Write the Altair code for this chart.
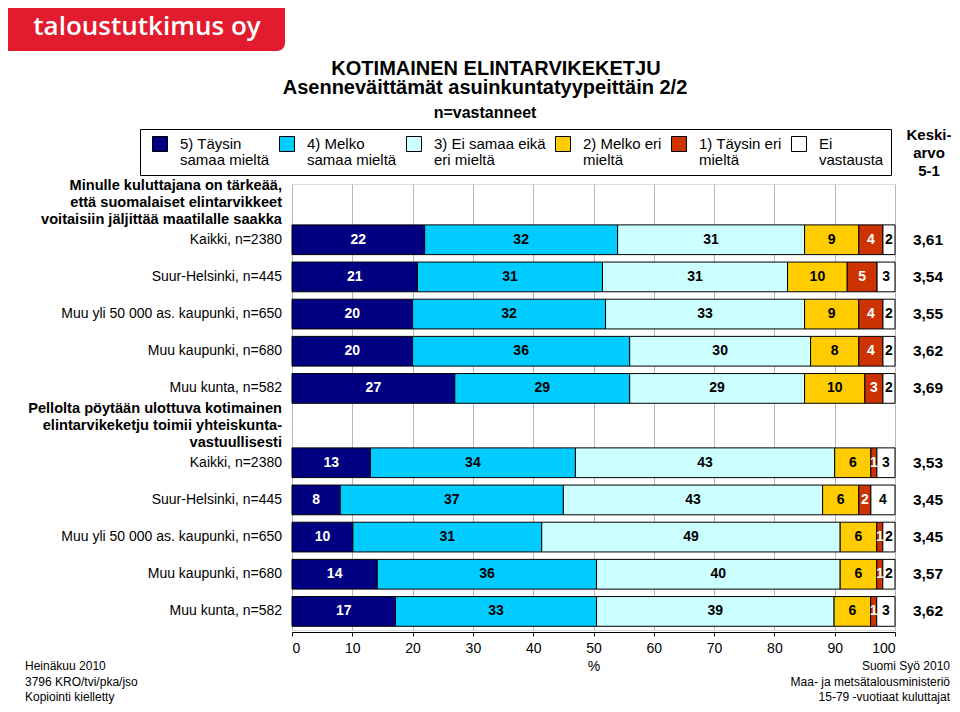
import altair as alt
import pandas as pd

# ---------------- data ----------------
row_labels = ["Kaikki, n=2380", "Suur-Helsinki, n=445", "Muu yli 50 000 as. kaupunki, n=650",
              "Muu kaupunki, n=680", "Muu kunta, n=582"]
questions = ["Minulle kuluttajana on tärkeää,\nettä suomalaiset elintarvikkeet\nvoitaisiin jäljittää maatilalle saakka",
             "Pellolta pöytään ulottuva kotimainen\nelintarvikeketju toimii yhteiskunta-\nvastuullisesti"]
categories = ["5) Täysin\nsamaa mieltä", "4) Melko\nsamaa mieltä", "3) Ei samaa eikä\neri mieltä",
              "2) Melko eri\nmieltä", "1) Täysin eri\nmieltä", "Ei\nvastausta"]
colors = ["#000080", "#00ccff", "#ccffff", "#ffcc00", "#cc3300", "#ffffff"]
q1_values = [[22, 32, 31, 9, 4, 2], [21, 31, 31, 10, 5, 3], [20, 32, 33, 9, 4, 2],
             [20, 36, 30, 8, 4, 2], [27, 29, 29, 10, 3, 2]]
q2_values = [[13, 34, 43, 6, 1, 3], [8, 37, 43, 6, 2, 4], [10, 31, 49, 6, 1, 2],
             [14, 36, 40, 6, 1, 2], [17, 33, 39, 6, 1, 3]]
q1_means = ["3,61", "3,54", "3,55", "3,62", "3,69"]
q2_means = ["3,53", "3,45", "3,45", "3,57", "3,62"]
x_ticks = [0, 10, 20, 30, 40, 50, 60, 70, 80, 90, 100]
title_lines = ["KOTIMAINEN ELINTARVIKEKETJU", "Asenneväittämät asuinkuntatyypeittäin  2/2"]
subtitle = "n=vastanneet"
mean_header = "Keski-\narvo\n5-1"
footer_left = "Heinäkuu 2010\n3796 KRO/tvi/pka/jso\nKopiointi kielletty"
footer_right = "Suomi Syö 2010\nMaa- ja metsätalousministeriö\n15-79 -vuotiaat kuluttajat"
logo_text = "taloustutkimus oy"

# ---------------- tables ----------------
order = ["q1_h"] + [f"q1_{i}" for i in range(5)] + ["q2_h"] + [f"q2_{i}" for i in range(5)]
records = []
for q, vals in (("q1", q1_values), ("q2", q2_values)):
    for i, row in enumerate(vals):
        for ci, v in enumerate(row):
            records.append({"key": f"{q}_{i}", "cat": categories[ci], "ci": ci, "value": v})
df = pd.DataFrame(records)
row_df = pd.DataFrame({
    "key": [f"q1_{i}" for i in range(5)] + [f"q2_{i}" for i in range(5)],
    "label": row_labels * 2,
    "mean": q1_means + q2_means,
})
q_df = pd.DataFrame({"key": ["q1_h", "q2_h"], "label": questions})

W, H = 603, 446
FONT = "Liberation Sans"
NARROW = "Liberation Sans Narrow, Arial Narrow, Liberation Sans"

yenc = alt.Y("key:N", scale=alt.Scale(domain=order, paddingInner=0.2, paddingOuter=0.1), axis=None)

stacked = alt.Chart(df).transform_stack(
    stack="value", groupby=["key"], as_=["x0", "x1"], offset="normalize",
    sort=[alt.SortField("ci", order="ascending")])

bars = stacked.mark_bar(stroke="black", strokeWidth=1).encode(
    x=alt.X("x0:Q",
            scale=alt.Scale(domain=[0, 1], nice=False, zero=True),
            axis=alt.Axis(values=[t / 100 for t in x_ticks], labelExpr="round(datum.value*100)",
                          title="%", titleFontWeight="normal", titleFontSize=14, titleFont=FONT,
                          titlePadding=4, labelFont=FONT, labelFontSize=14, labelColor="black",
                          labelPadding=5, tickSize=4, tickColor="black", domainColor="black",
                          offset=2, grid=True, gridColor="#b8b8b8", gridWidth=1)),
    x2="x1:Q",
    y=yenc,
    fill=alt.Fill("cat:N", scale=alt.Scale(domain=categories, range=colors),
                  legend=alt.Legend(title=None, orient="none", legendX=-152, legendY=-55,
                                    direction="horizontal", symbolType="square", symbolSize=225,
                                    symbolStrokeColor="black", symbolStrokeWidth=1, symbolOpacity=1,
                                    symbolOffset=5,
                                    labelFont=FONT, labelFontSize=15, labelColor="black",
                                    labelOffset=12, columnPadding=4, padding=7,
                                    strokeColor="black", fillColor="white", labelLimit=240,
                                    labelExpr="split(datum.label, '\\n')")),
)

bar_text = stacked.transform_calculate(xm="(datum.x0 + datum.x1) / 2").mark_text(
    font=NARROW, fontSize=14, fontWeight="bold", baseline="middle").encode(
    x="xm:Q", y=yenc, text="value:Q",
    color=alt.condition(alt.FieldOneOfPredicate(field="cat", oneOf=[categories[0], categories[4]]),
                        alt.value("white"), alt.value("black")),
)

row_text = alt.Chart(row_df).mark_text(align="right", baseline="middle", font=FONT, fontSize=14,
                                       color="black").encode(
    x=alt.value(-10), y=yenc, text="label:N")

mean_text = alt.Chart(row_df).mark_text(align="center", baseline="middle", font=FONT, fontSize=15.5,
                                        fontWeight="bold", color="black").encode(
    x=alt.value(W + 33), y=yenc, text="mean:N")

q_text = alt.Chart(q_df).mark_text(align="right", baseline="middle", font=FONT, fontSize=14.6,
                                   fontWeight="bold", lineBreak="\n", lineHeight=17, dy=-17,
                                   color="black").encode(
    x=alt.value(-10), y=yenc, text="label:N")

header = alt.Chart(pd.DataFrame({"t": [mean_header]})).mark_text(
    align="center", baseline="middle", font=FONT, fontSize=15, fontWeight="bold",
    lineBreak="\n", lineHeight=18, color="black").encode(
    x=alt.value(W + 34), y=alt.value(-49), text="t:N")

t1 = alt.Chart(pd.DataFrame({"t": [title_lines[0]]})).mark_text(
    align="center", baseline="middle", font=FONT, fontSize=20, fontWeight="bold", color="black").encode(
    x=alt.value(204), y=alt.value(-115), text="t:N")
t2 = alt.Chart(pd.DataFrame({"t": [title_lines[1]]})).mark_text(
    align="center", baseline="middle", font=FONT, fontSize=20, fontWeight="bold", color="black").encode(
    x=alt.value(193), y=alt.value(-96), text="t:N")
t3 = alt.Chart(pd.DataFrame({"t": [subtitle]})).mark_text(
    align="center", baseline="middle", font=FONT, fontSize=16, fontWeight="bold", color="black").encode(
    x=alt.value(193), y=alt.value(-71), text="t:N")

logo_box = alt.Chart(pd.DataFrame({"t": [logo_text]})).mark_rect(
    color="#e31b2e", cornerRadiusBottomRight=8).encode(
    x=alt.value(-284), x2=alt.value(-7), y=alt.value(-176), y2=alt.value(-133))
logo = alt.Chart(pd.DataFrame({"t": [logo_text]})).mark_text(
    align="center", baseline="middle", font="Open Sans", fontSize=26, fontWeight=600,
    color="white").encode(x=alt.value(-145), y=alt.value(-157), text="t:N")

foot_l = alt.Chart(pd.DataFrame({"t": [footer_left]})).mark_text(
    align="left", baseline="middle", font=FONT, fontSize=12, lineBreak="\n", lineHeight=15.5,
    color="black").encode(x=alt.value(-267), y=alt.value(482), text="t:N")
foot_r = alt.Chart(pd.DataFrame({"t": [footer_right]})).mark_text(
    align="right", baseline="middle", font=FONT, fontSize=12, lineBreak="\n", lineHeight=15.5,
    color="black").encode(x=alt.value(W + 55), y=alt.value(482), text="t:N")

chart = alt.layer(bars, bar_text, row_text, mean_text, q_text, header, t1, t2, t3,
                  logo_box, logo, foot_l, foot_r).properties(
    width=W, height=H,
    autosize=alt.AutoSizeParams(type="none"),
    padding={"left": 284, "top": 176, "right": 56, "bottom": 74},
).configure_view(stroke="black", strokeWidth=1).configure(
    background="white", style={"guide-label": {"lineHeight": 16}})

chart.save("out.html", embed_options={"renderer": "svg", "actions": False})
